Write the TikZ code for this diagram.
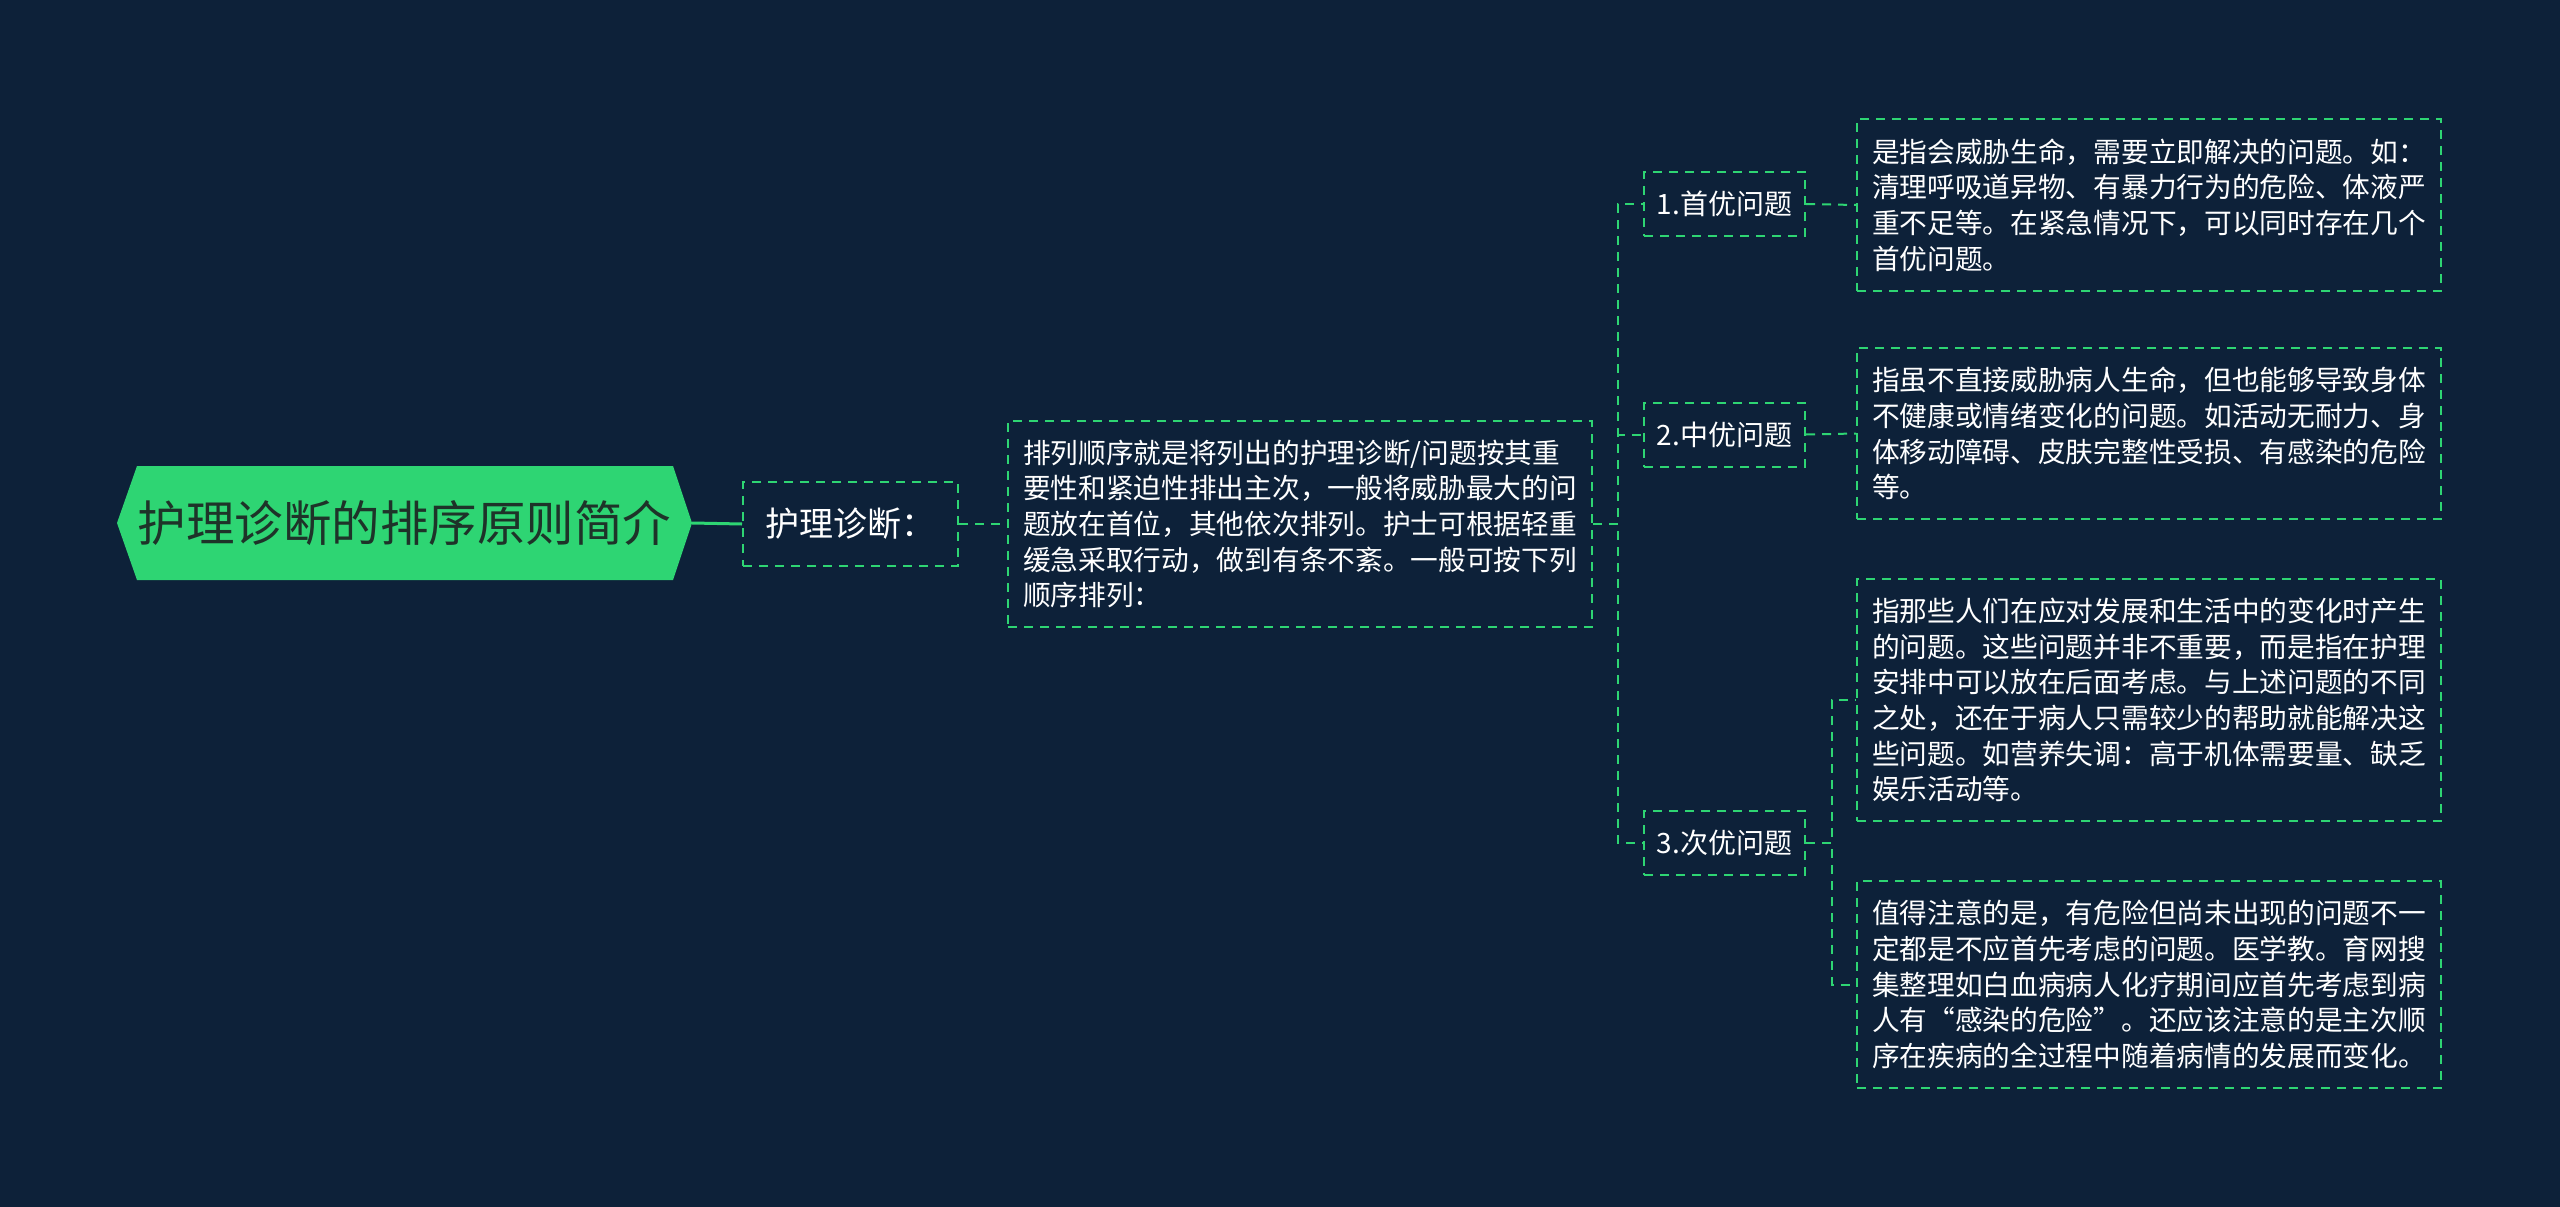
\documentclass[tikz,border=0pt]{standalone}
\usepackage{fontspec}
\setmainfont{Noto Sans CJK SC}
\definecolor{bg}{HTML}{0D2139}
\definecolor{grn}{HTML}{2ED573}
\definecolor{rootfg}{HTML}{1E3329}
\begin{document}
\begin{tikzpicture}[x=1pt,y=-1pt,
  box/.style={draw=grn, line width=2pt, dash pattern=on 9pt off 7pt, text=white, inner sep=0pt},
  conn/.style={draw=grn, line width=2pt, dash pattern=on 9pt off 7pt},
  desc/.style={box, align=left, font=\fontsize{27.7}{35.7}\selectfont, minimum width=584pt},
  child/.style={box, font=\fontsize{28}{34}\selectfont, minimum width=161pt, minimum height=64pt}]
\fill[bg] (0,0) rectangle (2560,1207);
\useasboundingbox (0,0) rectangle (2560,1207);
% root
\fill[grn] (117,523) -- (137,466) -- (673,466) -- (692,523) -- (673,580) -- (137,580) -- cycle;
\node[font=\fontsize{48.5}{56}\selectfont, text=rootfg, minimum width=575pt, minimum height=114pt, inner sep=0pt] (root) at (404.5,523) {护理诊断的排序原则简介};
% level 1
\node[box, font=\fontsize{34}{40}\selectfont, minimum width=215pt, minimum height=84pt] (b) at (850.5,524) {护理诊断：};
% level 2
\node[desc, minimum height=206pt] (d0) at (1300,524) {排列顺序就是将列出的护理诊断/问题按其重\\要性和紧迫性排出主次，一般将威胁最大的问\\题放在首位，其他依次排列。护士可根据轻重\\缓急采取行动，做到有条不紊。一般可按下列\\顺序排列：};
% level 3
\node[child] (c1) at (1724.5,204) {1.首优问题};
\node[child] (c2) at (1724.5,434.5) {2.中优问题};
\node[child] (c3) at (1724.5,843) {3.次优问题};
% level 4
\node[desc, minimum height=172pt] (d1) at (2149,205) {是指会威胁生命，需要立即解决的问题。如：\\清理呼吸道异物、有暴力行为的危险、体液严\\重不足等。在紧急情况下，可以同时存在几个\\首优问题。};
\node[desc, minimum height=171pt] (d2) at (2149,433.5) {指虽不直接威胁病人生命，但也能够导致身体\\不健康或情绪变化的问题。如活动无耐力、身\\体移动障碍、皮肤完整性受损、有感染的危险\\等。};
\node[desc, minimum height=242pt] (d3) at (2149,700) {指那些人们在应对发展和生活中的变化时产生\\的问题。这些问题并非不重要，而是指在护理\\安排中可以放在后面考虑。与上述问题的不同\\之处，还在于病人只需较少的帮助就能解决这\\些问题。如营养失调：高于机体需要量、缺乏\\娱乐活动等。};
\node[desc, minimum height=207pt] (d4) at (2149,984.5) {值得注意的是，有危险但尚未出现的问题不一\\定都是不应首先考虑的问题。医学教。育网搜\\集整理如白血病病人化疗期间应首先考虑到病\\人有“感染的危险”。还应该注意的是主次顺\\序在疾病的全过程中随着病情的发展而变化。};
% connectors
\draw[grn, line width=3pt] (root.east) -- (b.west);
\draw[conn] (b.east) -- (d0.west);
\draw[conn] (d0.east) -- ++(25,0) |- (c1.west);
\draw[conn] (d0.east) -- ++(25,0) |- (c2.west);
\draw[conn] (d0.east) -- ++(25,0) |- (c3.west);
\draw[conn] (c1.east) -- (d1.west);
\draw[conn] (c2.east) -- (d2.west);
\draw[conn] (c3.east) -- ++(26,0) |- (d3.west);
\draw[conn] (c3.east) -- ++(26,0) |- (d4.west);
\end{tikzpicture}
\end{document}
